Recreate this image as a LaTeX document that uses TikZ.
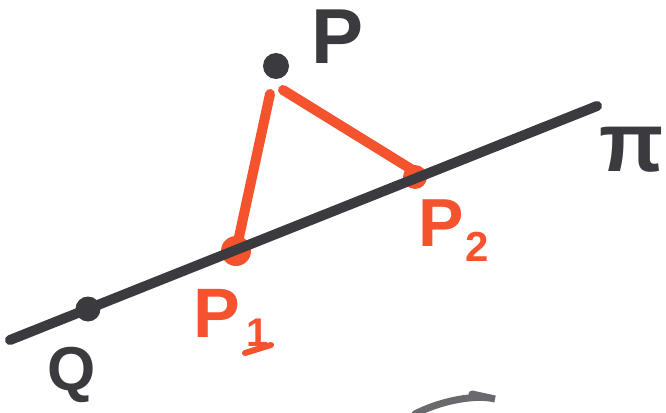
\documentclass[tikz,border=0pt]{standalone}
\usepackage{fontspec}
\setmainfont{Liberation Sans}
\definecolor{inkc}{HTML}{3A3A3F}
\definecolor{redc}{HTML}{F5532D}
\definecolor{grayc}{HTML}{6A6A6E}
\begin{document}
\begin{tikzpicture}[x=1pt,y=-1pt,
  inkline/.style={line width=10pt, line cap=round, color=inkc},
  redline/.style={line width=10pt, line cap=round, color=redc},
  dotpt/.style={circle, fill=inkc, inner sep=0pt, minimum size=#1},
  redpt/.style={circle, fill=redc, inner sep=0pt, minimum size=#1},
  lbl/.style={font=\fontsize{#1}{#1}\selectfont\bfseries, inner sep=0pt},
  inklbl/.style={lbl=#1, text=inkc},
  redlbl/.style={lbl=#1, text=redc}]
\useasboundingbox (0,0) rectangle (666,412);
\fill[white] (0,0) rectangle (666,412);
% line ends
\coordinate (A) at (10,340);
\coordinate (B) at (597,106);
% points
\node[redpt=30pt] (P1) at (236,251) {};
\node[redpt=24pt] (P2) at (415,177) {};
\node[dotpt=26pt] (P) at (276,66) {};
% red segments
\draw[redline] ([xshift=-6pt,yshift=-28pt]P.center) -- (P1.center);
\draw[redline] ([xshift=7pt,yshift=-24pt]P.center) -- ([xshift=-4pt,yshift=8pt]P2.center);
% the line
\draw[inkline] (A) -- (B);
\node[dotpt=25pt] (Q) at (88,309) {};
% labels
\node[inklbl=78pt] (Plbl) at (338,37) {P};
\node[inklbl=62pt] (Qlbl) at (72,375) {Q};
\node[redlbl=70pt] (P1lbl) at (217,313) {P};
\node[redlbl=40pt] (P1sub) at (258,333) {1};
\draw[redc, line width=6pt, line cap=round] (245,353) -- (271,345);
\node[redlbl=68pt] (P2lbl) at (441,223) {P};
\node[redlbl=42pt] (P2sub) at (477,247) {2};
\node[inklbl=84pt] (pi) at (632,150) {π};
% partial stroke at the bottom
\draw[grayc, line width=7pt, line cap=round] (415,414) .. controls (440,401) and (475,394) .. (495,399) -- (472,394);
\end{tikzpicture}
\end{document}
